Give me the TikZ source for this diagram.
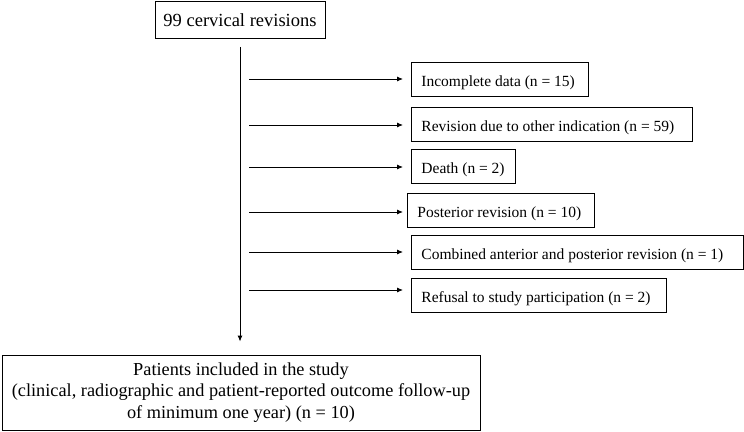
\documentclass[tikz,border=0pt]{standalone}
\usepackage{fontspec}
\setmainfont{Liberation Serif}
\usetikzlibrary{arrows.meta}
\newcommand{\lbox}[2]{\makebox[#1pt][l]{#2}}
\begin{document}
\begin{tikzpicture}[x=1pt,y=-1pt,
  box/.style={draw=black,line width=0.9pt,inner ysep=0pt,font=\fontsize{15.5}{21}\selectfont},
  sidebox/.style={box,anchor=west,minimum height=34pt,inner xsep=10pt,text height=17.5pt,text depth=3.5pt},
  arr/.style={line width=0.9pt,-{Latex[length=6pt,width=5pt]}}]
\useasboundingbox (0,0) rectangle (744,431);
\node[box,minimum width=170pt,minimum height=37pt,font=\fontsize{18.5}{22}\selectfont] (top) at (240,20) {99 cervical revisions};
\node[box,minimum width=478pt,minimum height=75pt,align=center,font=\fontsize{18.3}{21.5}\selectfont] (bot) at (241,392.5)
  {Patients included in the study\\(clinical, radiographic and patient-reported outcome follow-up\\of minimum one year) (n = 10)};
\node[sidebox] (b1) at (411,79) {\lbox{157}{Incomplete data (n = 15)}};
\node[sidebox] (b2) at (411,124) {\lbox{261}{Revision due to other indication (n = 59)}};
\node[sidebox] (b3) at (411,166) {\lbox{84}{Death (n = 2)}};
\node[sidebox] (b4) at (407,210) {\lbox{167}{Posterior revision (n = 10)}};
\node[sidebox] (b5) at (411,252) {\lbox{312}{Combined anterior and posterior revision (n = 1)}};
\node[sidebox] (b6) at (411,295.5) {\lbox{235}{Refusal to study participation (n = 2)}};
\draw[arr,shorten <=8pt,shorten >=13pt] (top.south) -- (top.south |- bot.north);
\foreach \i/\y in {1/79,2/125,3/167,4/212,5/252,6/290}{
  \coordinate (s\i) at (249,\y);
  \coordinate (e\i) at (403,\y);
  \draw[arr] (s\i) -- (e\i);
}
\end{tikzpicture}
\end{document}
